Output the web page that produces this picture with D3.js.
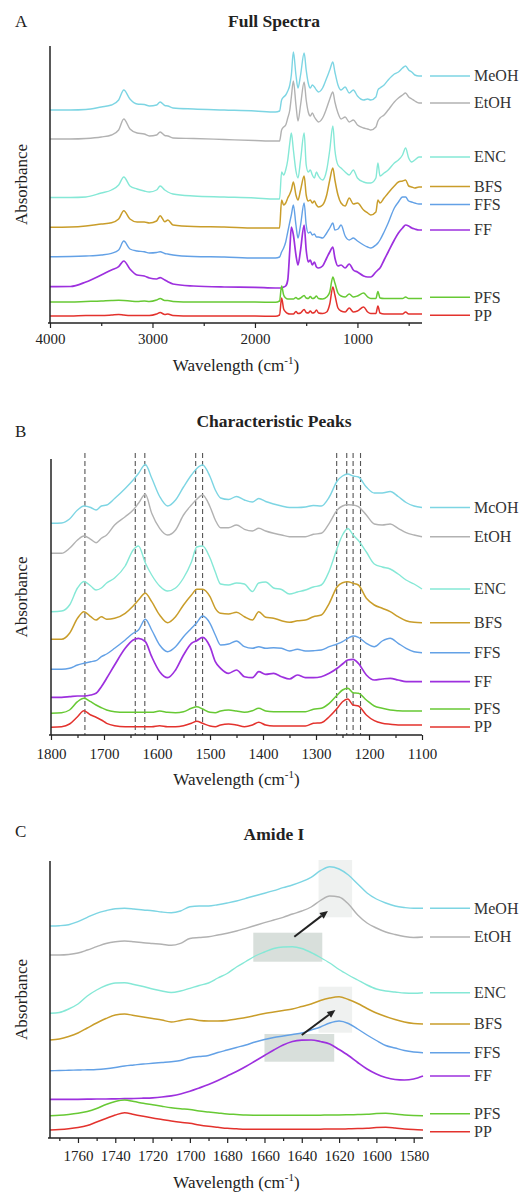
<!DOCTYPE html>
<html><head><meta charset="utf-8">
<script src="https://cdn.jsdelivr.net/npm/d3@7"></script>
<style>body{margin:0;background:#fff;} svg{display:block;}</style>
</head><body>
<svg id="c" width="527" height="1195"></svg>
<script>
// ---------- DATA ----------
const labelsA = ["MeOH","EtOH","ENC","BFS","FFS","FF","PFS","PP"];
const labelsB = ["McOH","EtOH","ENC","BFS","FFS","FF","PFS","PP"];
const labelsC = ["MeOH","EtOH","ENC","BFS","FFS","FF","PFS","PP"];

// Panel A: full spectra (wavenumber grid, stacked absorbance, arbitrary units)
const wnA = [4000,3800,3650,3500,3400,3330,3280,3220,3150,3080,3030,2960,2925,2880,2850,2800,2600,2300,2000,1800,1760,1740,1720,1700,1680,1660,1645,1625,1600,1580,1555,1520,1500,1480,1460,1440,1420,1400,1380,1340,1300,1270,1240,1220,1190,1160,1120,1080,1040,1000,940,900,870,820,800,780,740,700,640,600,560,530,500,470,440,400,370];
const meohA = [213,213,213.5,216,218, 223,233,224,219,218.5, 217,218,221,217.5,217, 215,214,213,212,211, 212,223,226,228,232, 238,248,271,248,235, 248,270,253,240,235, 238,236,233,231,235, 245,253,261,251,238, 233,236,230,233,227, 223,224,223,226,233, 235,238,243,249,251, 255,257,253,251,248, 247,247];
const etohA = [184,184,184.5,186,188, 193,204,194,190,189, 187,188,191,187.5,187, 185,184.5,183.5,182.5,182, 182,193,196,198,205, 213,226,242,218,202, 218,241,223,211,207, 210,206,203,201,205, 215,224,231,221,210, 204,206,201,203,198, 195,194,193,196,202, 205,208,213,221,225, 228,230,226,224,222, 220,220];
const encA = [125.5,125.5,126,130,133, 138,146,137,134,132, 131,133,137,133,131, 129,127,126,125,124, 124,151,148,153,163, 180,190,173,152,145, 163,190,158,151,153, 148,145,151,147,143, 153,173,197,173,158, 155,151,148,153,145, 141,140,140,145,160, 147,150,153,160,163, 168,175,165,161,163, 166,166];
const bfsA = [95.7,96,97,99,100.3, 104,112.3,104,101,101, 100,102,107.3,101.3,103, 98,96.5,96,95,95, 95,123,118,120,125, 129,133,141,128,123, 133,147,128,122,123, 120,122,118,116,118, 128,143,155,143,128, 120,117,125,119,120, 113,110,108,111,123, 120,125,130,137,141, 142,143,137,136,135, 136,136];
const ffsA = [66.3,66.5,67,68,69.7, 73,82,74,72,71.3, 70,70.5,71.3,69.5,69, 68,66.5,66,65,65, 66,71,75,81,91, 101,108,118,98,85, 98,120,98,90,91, 88,89,86,86,85, 90,95,100,93,94, 98,87,83,85,82, 78,76,75,78,80, 83,91,100,115,121, 126,126,122,121,120, 119,119];
const ffA = [36.3,36.5,41,48,53, 56.3,62,54,48,47, 45,44,45.3,43,41.3, 39,37,36,35.7,35, 35,35,36,37,43, 73,96,88,68,58, 73,98,73,61,63, 58,61,56,55,57, 65,71,76,65,57, 58,55,59,53,51, 47,46,46,51,53, 55,63,71,83,90, 95,98,97,95,94, 93,93];
const pfsA = [21,21,21.5,22,22.5, 22.7,22.5,22,21.5,22, 21.5,23,24.5,22.5,22.5, 21.5,21,21,21,20.7, 22,37,28,25,24, 24,24,24,25.5,24, 25,27.5,25,24.5,26.5, 24.5,25,27,24.5,24, 26,31,46,40,30, 27,26,29,26,27, 30,26,24.5,24.5,31.5, 25,24.5,24.5,24.5,24.5, 24.5,26,24.5,24.5,24.5, 24.5,24.5];
const ppA = [7,7,7.5,7.5,8, 8.5,8,7.5,7.5,7.5, 7.5,9,10.5,8.5,9, 7.5,7,7,7,6.7, 8,25,14,11,9.5, 9,9,9,11.5,9.5, 10,13.5,10.5,10,12, 10,10.5,13,10,9.5, 11,19,36,28,15, 12,11,15,11,12, 16,11,9.5,9.5,17, 10,9,9,9,9, 9,11,9,9,9, 9,9];
const majorTicksA = [4000,3000,2000,1000];
const minorTicksA = [3500,2500,1500,500];

// Panel B: characteristic peaks 1800-1100
const wnB = [1800,1780,1765,1750,1738,1725,1715,1705,1695,1680,1660,1645,1635,1622,1610,1595,1580,1565,1550,1535,1525,1514,1500,1490,1480,1465,1450,1435,1420,1408,1395,1380,1365,1350,1335,1320,1305,1290,1275,1260,1250,1240,1230,1220,1205,1190,1175,1160,1145,1130,1115,1100];
const meohB = [211.7,212,216,225,229, 227.5,225,229,230,236.5, 246.5,255,261.5,270.5,257, 238.5,229,235,248,260, 266.5,270,258.5,245,237, 235.5,238.5,235,233,236.5, 233.5,231,229,227.5,227.5, 228,229.5,229,238,254, 259,261,259,258,248, 242,242,243.5,238.5,232.5, 229,227.5];
const etohB = [181.7,181.7,186.7,195,199, 195.7,192.3,196.7,200,210, 218.3,225,231.7,240.7,221.7, 206.7,200,205,220,230, 235.7,240,228.3,215,207.3, 207.3,210,205.7,204,206.7, 204,201.7,200,198.3,198.3, 198.3,200.7,201.7,211.7,225, 229,230.3,230,228.3,220, 211,210,211,206.7,202.3, 200,198.3];
const encB = [123.3,124,130,147,153.5, 149,145,147,152,157, 169,185,189,172,160, 149,144,147,157,173, 188,189,177,163,151, 150,152,151,143.5,152, 153,147,145.5,141,143, 145,148,150,164,187, 200,206.5,200,194.5,183, 171,168,166,161,155, 151,146];
const bfsB = [95.7,95.7,101.7,116.7,123.3, 118.3,115,118.3,115.7,116.7, 121.7,129,135,141.7,133.3, 120,112.3,118.3,130,140, 145.7,145.7,138.3,126.7,121.7, 121,122.7,118.3,115,123.3, 117.7,116.7,114.3,112.7,114.3, 115,118.3,120,131.7,148.3, 152.3,153.3,151.7,150,136.7, 130,126.7,123.3,118.3,114.3, 112.7,112.3];
const ffsB = [65.7,65.7,66.7,70,71.7, 73.3,74.3,78.3,81,86.7, 95,101.7,105,115.7,105, 90,83.3,88.3,98.3,106.7, 112.3,119,111.7,100,90, 91,94,88.3,86.7,88.3, 86.7,87.3,86.7,84,85.7, 84,84.3,85,88.3,91, 93.3,96.7,99,97.7,91.7, 88.3,94,96.7,91.7,86.7, 83.3,82.3];
const ffB = [37.7,37.7,38.3,39,39, 40,41.7,48.3,56.7,70, 86.7,95,96.7,93.3,78.3, 63.3,57.3,65,80,91.7, 94.3,97.7,88.3,73.3,66.7, 61.7,65,58.3,57.3,63.3, 60.7,61.7,58.3,56,60, 57.3,57.3,58.3,61.7,66.7, 71,75,75.7,71.7,60, 55,56,56.7,55,53.3, 53.3,53.3];
const pfsB = [21.7,22.3,25,33.3,36.7, 33.3,30,27.3,25,23.3, 22.7,22.7,22.7,22.7,22.7, 24,22.7,22.3,23.3,26.7, 28.3,26,22.7,22.3,24, 25,24,22.7,24.3,26.7, 24,23.3,23.3,23.3,23.3, 23.3,25.7,26.7,31.7,40, 45,46.7,42.3,41.7,35, 29,26.7,25,24.3,24, 24,24];
const ppB = [7.7,8.3,11,18.3,24.3, 20,17.7,15,11.7,9.3, 8.3,8.3,8.3,8.3,8.3, 9.3,8.3,8.3,9.3,11.7, 13.7,11.7,9,8.3,10, 11,10,8.3,10,12.7, 10,9,9,9,9, 9,11.7,12.3,18.3,26.7, 33.3,36,30,29,20, 14.3,11.7,10.7,10,10, 10,10];
const peakMarksB = [1736,1641,1623,1527,1514,1261,1242,1230,1216];
const majorTicksB = [1800,1700,1600,1500,1400,1300,1200,1100];
const minorTicksB = [1750,1650,1550,1450,1350,1250,1150];

// Panel C: amide I 1775-1575
const wnC = [1775,1770,1765,1760,1755,1750,1745,1740,1735,1730,1725,1720,1715,1710,1705,1700,1695,1690,1685,1680,1675,1670,1665,1660,1655,1650,1645,1640,1635,1630,1625,1620,1615,1610,1605,1600,1595,1590,1585,1580,1575];
const meohC = [212,212.3,213.3,216.3,220.7, 224.7,227.3,229.3,229.7,229, 228,227.3,226,225.3,227, 231.3,232,232,233.3,235, 237,239.7,242.3,244.7,247.3, 250.3,253,256.3,260.7,267.3, 271.3,269,263,254,245, 239,235,232,230.5,229.7, 229.7];
const etohC = [183,183,183.5,185,188, 191.3,194.5,196.3,197,196.3, 195.3,194.5,193.7,192.7,194.7, 199.5,200.5,201.3,203,204.7, 207,209.7,212.5,215.3,218, 220.7,224,227,231,237.5, 242,241,234,223,215, 210,206,203.5,201.5,200.5, 201];
const encC = [124.7,125.5,129,134,142, 148,152.5,155,155.3,153.5, 151.5,149,147,145.5,147, 149.7,152.5,155,160,164.5, 171,176.5,182,186,189.5, 191,191.3,189.5,185.5,180.5, 175,168.5,163,158,153, 149,147,146,145,144.7, 145.3];
const bfsC = [98,99,101.5,105,110, 115,119.5,123,124,122.5, 121,119.5,118,116,117.5, 119,117.5,117,117,117.5, 119,120.5,122.5,124.5,126, 127.5,129,131.5,134,137.5, 140,141.3,138.5,134.5,129.5, 125,121.5,118.5,116,114.5, 114];
const ffsC = [67.3,67.5,67.7,68,68.2, 68.5,69.3,70.5,72,73, 74,74.7,75.5,76.3,77.5, 80.3,81.5,82.5,85.5,88, 90.5,93,96,98.5,100.5, 102,103.5,105,108,111, 115,117,114.5,109,103, 97.5,92.5,90,87.5,86, 85.3];
const ffC = [38.7,38.7,38.7,38.7,38.8, 39,39,39.2,39.3,39.5, 39.8,40.2,41,42.2,44, 46.7,50,53.5,57.5,62, 66.5,71.5,77,82.5,88, 93,96.5,97.8,98,96.5, 94,88.5,82.5,75.5,69, 64,60.5,58.5,58,59, 62];
const pfsC = [22.3,22.7,23.5,24.7,26.5, 29.5,33.5,36.5,38,36.5, 34.7,33.2,31.7,30.3,29.3, 28.5,27,26,25,24, 23.5,23,22.8,22.7,22.7, 22.7,22.7,22.7,22.7,22.8, 23,23,23.2,23.5,23.8, 24.4,24.7,24,23,22.5, 22.3];
const ppC = [8,8.5,9.3,10.5,12.5, 16,19.5,23,25.3,23.5, 21.7,20,18.5,17,15.7, 14.7,13,11.7,10.7,9.7, 9.2,8.8,8.7,8.7,8.7, 8.7,8.7,8.7,8.7,8.8, 9,9,9.2,9.4,9.8, 10.4,10.7,10,9,8.4, 8];
const majorTicksC = [1760,1740,1720,1700,1680,1660,1640,1620,1600,1580];
const minorTicksC = [1770,1750,1730,1710,1690,1670,1650,1630,1610,1590];
// highlight regions
const boxWnC = [[1631,1613],[1666,1629],[1631,1613],[1660,1622.6]];
const boxAbsC = [[220.7,278],[176.3,205.3],[105.3,151.3],[76.3,104]];
const boxToneC = ["light","dark","light","dark"];
// arrows: from [wn, abs] to [wn, abs]
const arrowFromC = [[1644,201.3],[1640,103]];
const arrowToC = [[1626,227],[1622,128]];

// ---------- STYLE ----------
const seriesColors = ["#7dd5e3","#b2b2b2","#85e8d6","#c99d2a","#63a1e6","#9d30de","#67c934","#e3322d"];
const seriesWidths = [1.4,1.4,1.4,1.5,1.4,1.7,1.5,1.5];
const boxFill = {light:"#eff1f0", dark:"#d8dfdb"};
const FONT = "'Liberation Serif','Times New Roman',serif";
const LEGEND_FS = 16;
const LEGEND_GAP = 18;

const svg = d3.select("#c");

function spreadLegend(ys) {
  const out = ys.slice();
  for (let iter = 0; iter < 20; iter++) {
    for (let i = 1; i < out.length; i++) {
      const gap = out[i] - out[i - 1];
      if (gap < LEGEND_GAP) {
        const d = (LEGEND_GAP - gap) / 2;
        out[i - 1] -= d; out[i] += d;
      }
    }
  }
  return out;
}

function drawPanel(p) {
  const g = svg.append("g");
  const x = d3.scaleLinear().domain(p.xDomain).range([p.left, p.right]);
  const y = d3.scaleLinear().domain([0, p.yMax]).range([p.bottom, p.top]);

  g.append("text").attr("x", 15).attr("y", p.letterY).attr("font-family", FONT)
    .attr("font-size", 17).attr("fill", "#222").text(p.letter);
  g.append("text").attr("x", 274).attr("y", p.titleY).attr("text-anchor", "middle")
    .attr("font-family", FONT).attr("font-size", 17.5).attr("font-weight", "bold")
    .attr("fill", "#222").text(p.title);

  if (p.boxes) {
    p.boxes.wn.forEach((w, i) => {
      const a = p.boxes.abs[i];
      g.append("rect").attr("x", x(w[0])).attr("width", x(w[1]) - x(w[0]))
        .attr("y", y(a[1])).attr("height", y(a[0]) - y(a[1]))
        .attr("fill", boxFill[p.boxes.tone[i]]);
    });
  }
  if (p.marks) {
    g.selectAll(".mk").data(p.marks).join("line")
      .attr("x1", d => x(d)).attr("x2", d => x(d))
      .attr("y1", p.top - 6).attr("y2", p.bottom)
      .attr("stroke", "#555").attr("stroke-width", 1.1).attr("stroke-dasharray", "5,3");
  }

  const line = d3.line().x((d, i) => x(p.wn[i])).y(d => y(d)).curve(d3.curveMonotoneX);
  p.series.forEach((vals, i) => {
    g.append("path").attr("d", line(vals)).attr("fill", "none")
      .attr("stroke", seriesColors[i]).attr("stroke-width", seriesWidths[i])
      .attr("stroke-linejoin", "round");
  });

  if (p.arrows) {
    p.arrows.from.forEach((f, i) => {
      const t = p.arrows.to[i];
      const x1 = x(f[0]), y1 = y(f[1]), x2 = x(t[0]), y2 = y(t[1]);
      const ang = Math.atan2(y2 - y1, x2 - x1);
      const L = 8, W = 3.6;
      const bx = x2 - L * Math.cos(ang), by = y2 - L * Math.sin(ang);
      g.append("line").attr("x1", x1).attr("y1", y1).attr("x2", bx).attr("y2", by)
        .attr("stroke", "#222").attr("stroke-width", 2);
      const pts = [[x2, y2],
        [bx + W * Math.sin(ang), by - W * Math.cos(ang)],
        [bx - W * Math.sin(ang), by + W * Math.cos(ang)]];
      g.append("polygon").attr("points", pts.map(q => q.join(",")).join(" ")).attr("fill", "#222");
    });
  }

  g.append("line").attr("x1", p.left).attr("x2", p.left).attr("y1", p.top).attr("y2", p.bottom)
    .attr("stroke", "#222").attr("stroke-width", 1.5);

  const ax = g.append("g").attr("transform", `translate(0,${p.bottom})`)
    .call(d3.axisBottom(x).tickValues(p.major).tickSize(5).tickSizeOuter(0)
      .tickPadding(p.tickPad).tickFormat(d3.format("d")));
  ax.select(".domain").attr("stroke", "#222").attr("stroke-width", 1.5)
    .attr("d", `M${p.left - 2},0H${p.right}`);
  ax.selectAll(".tick line").attr("stroke", "#222").attr("stroke-width", 1.2);
  ax.selectAll(".tick text").attr("font-family", FONT).attr("font-size", 15).attr("fill", "#222");
  const mn = g.append("g").attr("transform", `translate(0,${p.bottom})`)
    .call(d3.axisBottom(x).tickValues(p.minor).tickSize(3).tickSizeOuter(0).tickFormat(""));
  mn.select(".domain").remove();
  mn.selectAll(".tick line").attr("stroke", "#222").attr("stroke-width", 1.2);

  const xt = g.append("text").attr("x", (p.left + p.right) / 2).attr("y", p.xTitleY)
    .attr("text-anchor", "middle").attr("font-family", FONT).attr("font-size", 17).attr("fill", "#222");
  xt.append("tspan").text("Wavelength (cm");
  xt.append("tspan").attr("font-size", 11).attr("dy", -7).text("-1");
  xt.append("tspan").attr("dy", 7).text(")");
  g.append("text").attr("transform", `translate(27,${(p.top + p.bottom) / 2}) rotate(-90)`)
    .attr("text-anchor", "middle").attr("font-family", FONT).attr("font-size", 17)
    .attr("fill", "#222").text("Absorbance");

  // legend at the end level of each spectrum (nudged apart where crowded)
  const ends = p.series.map(vals => y(vals[vals.length - 1]));
  const ly = spreadLegend(ends);
  p.series.forEach((vals, i) => {
    g.append("line").attr("x1", 430).attr("x2", 470).attr("y1", ly[i]).attr("y2", ly[i])
      .attr("stroke", seriesColors[i]).attr("stroke-width", seriesWidths[i]);
    g.append("text").attr("x", 474).attr("y", ly[i]).attr("dy", "0.34em")
      .attr("font-family", FONT).attr("font-size", LEGEND_FS).attr("fill", "#333").text(p.labels[i]);
  });
}

drawPanel({
  letter: "A", letterY: 27, title: "Full Spectra", titleY: 26.7,
  xDomain: [4000, 370], left: 50, right: 422, top: 46, bottom: 323, yMax: 277,
  wn: wnA, series: [meohA, etohA, encA, bfsA, ffsA, ffA, pfsA, ppA], labels: labelsA,
  major: majorTicksA, minor: minorTicksA, tickPad: 5, xTitleY: 371
});
drawPanel({
  letter: "B", letterY: 436.7, title: "Characteristic Peaks", titleY: 426.7,
  xDomain: [1800, 1100], left: 51, right: 422, top: 459, bottom: 735, yMax: 276,
  wn: wnB, series: [meohB, etohB, encB, bfsB, ffsB, ffB, pfsB, ppB], labels: labelsB,
  major: majorTicksB, minor: minorTicksB, tickPad: 8, xTitleY: 785,
  marks: peakMarksB
});
drawPanel({
  letter: "C", letterY: 837.3, title: "Amide I", titleY: 839.5,
  xDomain: [1775, 1575], left: 50, right: 423, top: 861, bottom: 1138, yMax: 277,
  wn: wnC, series: [meohC, etohC, encC, bfsC, ffsC, ffC, pfsC, ppC], labels: labelsC,
  major: majorTicksC, minor: minorTicksC, tickPad: 7, xTitleY: 1188,
  boxes: {wn: boxWnC, abs: boxAbsC, tone: boxToneC},
  arrows: {from: arrowFromC, to: arrowToC}
});
</script>
</body></html>
